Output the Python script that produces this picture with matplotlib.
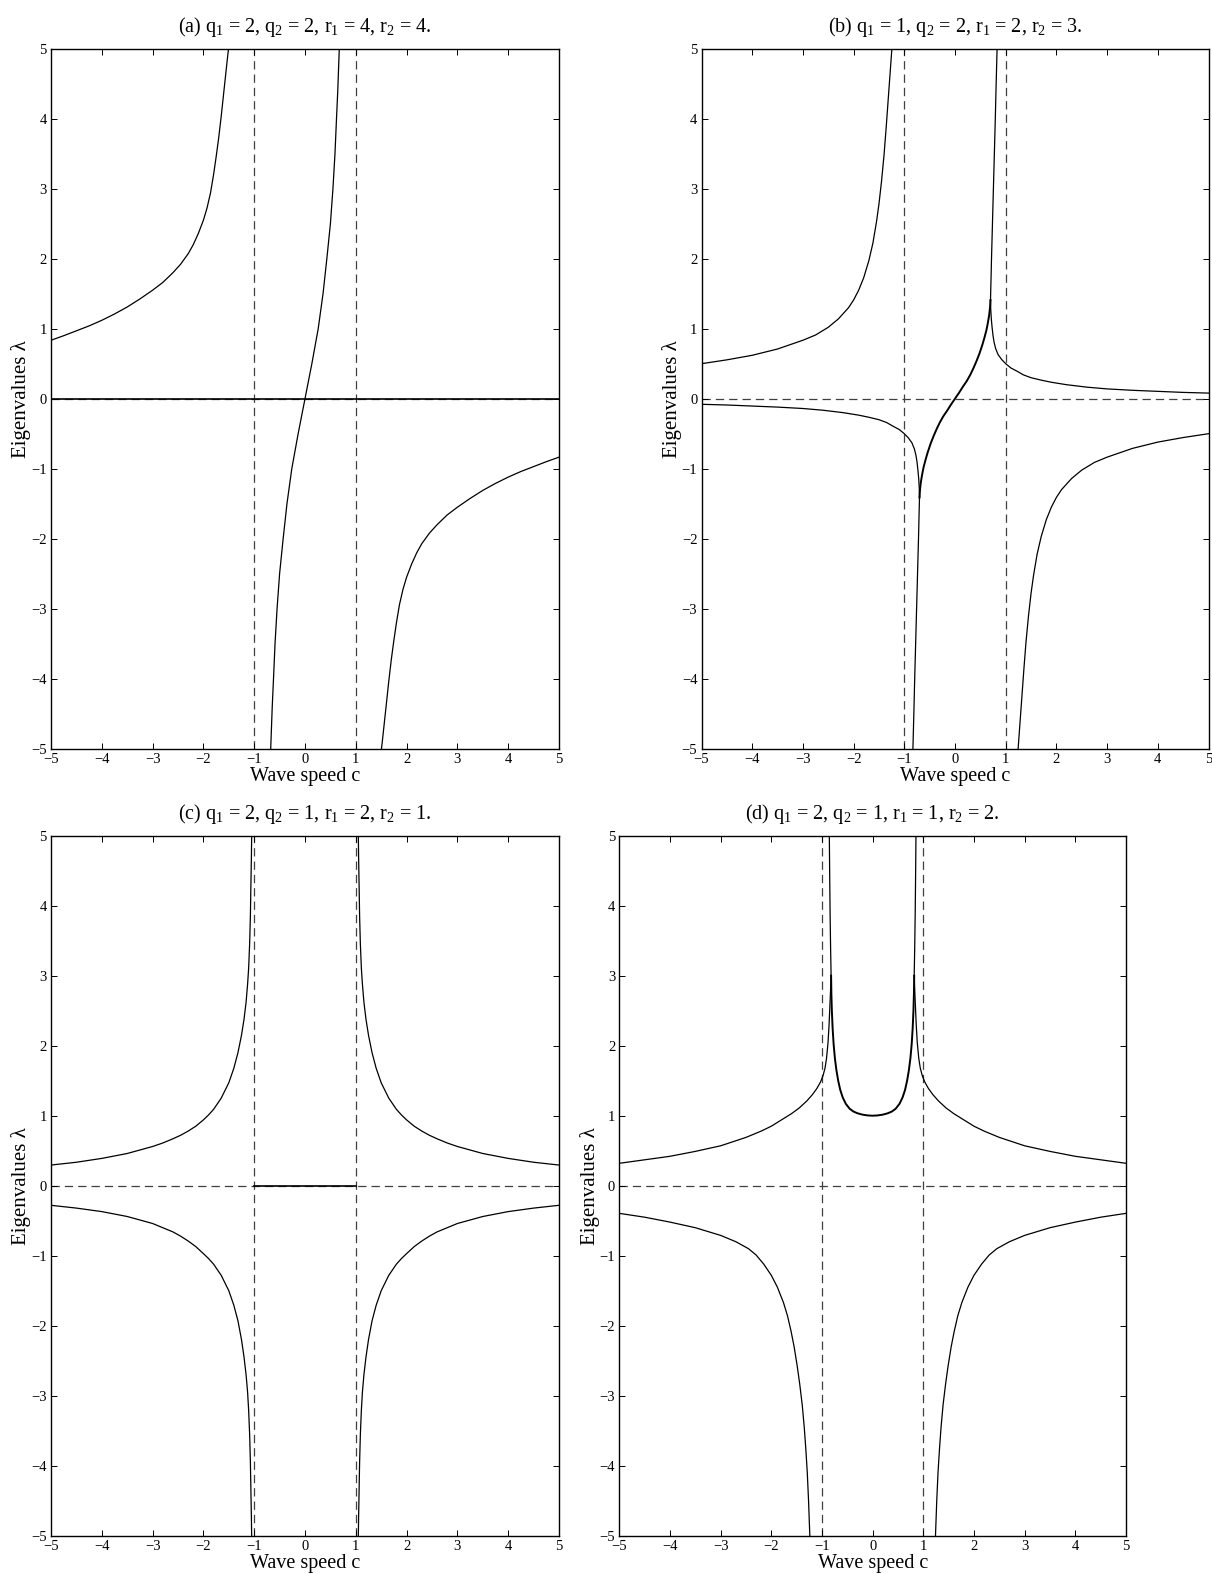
import numpy as np
import matplotlib
matplotlib.use("Agg")
import matplotlib.pyplot as plt

plt.rcParams['font.family'] = ['Liberation Serif', 'DejaVu Serif']
plt.rcParams['mathtext.fontset'] = 'custom'
plt.rcParams['mathtext.rm'] = 'Liberation Serif'
plt.rcParams['mathtext.it'] = 'Liberation Serif:italic'
plt.rcParams['lines.scale_dashes'] = False

#Panel titles
titles = [
    r'(a) q$_1$ = 2, q$_2$ = 2, r$_1$ = 4, r$_2$ = 4.',
    r'(b) q$_1$ = 1, q$_2$ = 2, r$_1$ = 2, r$_2$ = 3.',
    r'(c) q$_1$ = 2, q$_2$ = 1, r$_1$ = 2, r$_2$ = 1.',
    r'(d) q$_1$ = 2, q$_2$ = 1, r$_1$ = 1, r$_2$ = 2.',
]
ticks = [-5, -4, -3, -2, -1, 0, 1, 2, 3, 4, 5]
asymptotes_c = [-1, 1]
zero_level = 0

#(a) eigenvalue branches
a_ul_c = [-5.0, -4.75, -4.5, -4.25, -4.0, -3.75, -3.5, -3.25, -3.0, -2.8, -2.6, -2.45, -2.3, -2.2, -2.1,
          -2.0, -1.93, -1.86, -1.8, -1.75, -1.7, -1.65, -1.6, -1.56, -1.52, -1.505]
a_ul_lam = [0.835, 0.9, 0.97, 1.04, 1.12, 1.21, 1.31, 1.425, 1.55, 1.66, 1.8, 1.92, 2.07, 2.2, 2.36,
            2.55, 2.72, 2.94, 3.2, 3.45, 3.72, 4.03, 4.37, 4.64, 4.91, 5.0]
a_lr_c = [1.505, 1.52, 1.56, 1.6, 1.65, 1.7, 1.75, 1.8, 1.86, 1.93, 2.0, 2.1, 2.2, 2.3, 2.45,
          2.6, 2.8, 3.0, 3.25, 3.5, 3.75, 4.0, 4.25, 4.5, 4.75, 5.0]
a_lr_lam = [-5.0, -4.91, -4.64, -4.37, -4.03, -3.72, -3.45, -3.2, -2.94, -2.72, -2.55, -2.36, -2.2, -2.07, -1.92,
            -1.8, -1.66, -1.55, -1.425, -1.31, -1.21, -1.12, -1.04, -0.97, -0.9, -0.835]
a_mid_c = [-0.675, -0.66, -0.645, -0.62, -0.59, -0.55, -0.5, -0.43, -0.355, -0.26, -0.135, 0.0,
           0.135, 0.26, 0.355, 0.43, 0.5, 0.55, 0.59, 0.62, 0.645, 0.66, 0.675]
a_mid_lam = [-5.0, -4.7, -4.4, -4.0, -3.5, -3.0, -2.5, -2.0, -1.5, -1.0, -0.5, 0.0,
             0.5, 1.0, 1.5, 2.0, 2.5, 3.0, 3.5, 4.0, 4.4, 4.7, 5.0]
a_zero_c = [-5.0, 5.0]
a_zero_lam = [0.0, 0.0]

#(b)
b_ul_c = [-5.0, -4.5, -4.0, -3.5, -3.0, -2.75, -2.5, -2.3, -2.1, -2.0, -1.9, -1.8, -1.7, -1.62,
          -1.55, -1.5, -1.45, -1.4, -1.36, -1.32, -1.28, -1.245]
b_ul_lam = [0.5, 0.555, 0.62, 0.71, 0.835, 0.91, 1.02, 1.14, 1.3, 1.41, 1.55, 1.73, 1.97, 2.22,
            2.52, 2.78, 3.1, 3.48, 3.85, 4.25, 4.65, 5.0]
b_lr_c = [1.245, 1.28, 1.32, 1.36, 1.4, 1.45, 1.5, 1.55, 1.62, 1.7, 1.8, 1.9, 2.0, 2.1,
          2.3, 2.5, 2.75, 3.0, 3.5, 4.0, 4.5, 5.0]
b_lr_lam = [-5.0, -4.65, -4.25, -3.85, -3.48, -3.1, -2.78, -2.52, -2.22, -1.97, -1.73, -1.55, -1.41, -1.3,
            -1.14, -1.02, -0.91, -0.835, -0.71, -0.62, -0.555, -0.5]
b_ur_c = [0.70, 0.705, 0.715, 0.73, 0.75, 0.77, 0.8, 0.85, 0.92, 1.0, 1.1, 1.23, 1.35, 1.5,
          1.7, 1.9, 2.2, 2.6, 3.0, 3.5, 4.0, 4.5, 5.0]
b_ur_lam = [1.40, 1.28, 1.15, 1.03, 0.9, 0.81, 0.72, 0.63, 0.56, 0.5, 0.44, 0.39, 0.34, 0.3,
            0.265, 0.235, 0.2, 0.165, 0.14, 0.12, 0.105, 0.09, 0.08]
b_ll_c = [-5.0, -4.5, -4.0, -3.5, -3.0, -2.6, -2.2, -1.9, -1.7, -1.5, -1.35, -1.23, -1.1, -1.0,
          -0.92, -0.85, -0.8, -0.77, -0.75, -0.73, -0.715, -0.705, -0.70]
b_ll_lam = [-0.08, -0.09, -0.105, -0.12, -0.14, -0.165, -0.2, -0.235, -0.265, -0.3, -0.34, -0.39, -0.44, -0.5,
            -0.56, -0.63, -0.72, -0.81, -0.9, -1.03, -1.15, -1.28, -1.40]
b_upvert_c = [0.70, 0.705, 0.712, 0.72, 0.735, 0.75, 0.765, 0.78, 0.795, 0.81, 0.83]
b_upvert_lam = [1.40, 1.55, 1.75, 2.0, 2.4, 2.8, 3.2, 3.6, 4.0, 4.45, 5.0]
b_dnvert_c = [-0.83, -0.81, -0.795, -0.78, -0.765, -0.75, -0.735, -0.72, -0.712, -0.705, -0.70]
b_dnvert_lam = [-5.0, -4.45, -4.0, -3.6, -3.2, -2.8, -2.4, -2.0, -1.75, -1.55, -1.40]
b_mid_c = [-0.70, -0.69, -0.675, -0.65, -0.62, -0.58, -0.54, -0.48, -0.42, -0.36, -0.3, -0.23, -0.154, -0.08, 0.0,
           0.08, 0.154, 0.23, 0.3, 0.36, 0.42, 0.48, 0.54, 0.58, 0.62, 0.65, 0.675, 0.69, 0.70]
b_mid_lam = [-1.41, -1.3, -1.2, -1.09, -0.98, -0.87, -0.77, -0.64, -0.53, -0.43, -0.34, -0.25, -0.17, -0.085, 0.0,
             0.085, 0.17, 0.25, 0.34, 0.43, 0.53, 0.64, 0.77, 0.87, 0.98, 1.09, 1.2, 1.3, 1.41]

#(c)
c_ul_c = [-5.0, -4.5, -4.0, -3.5, -3.0, -2.8, -2.6, -2.45, -2.3, -2.15, -2.0, -1.9, -1.8, -1.65, -1.5,
          -1.4, -1.32, -1.25, -1.2, -1.16, -1.13, -1.11, -1.09, -1.075, -1.065, -1.055, -1.05]
c_ul_lam = [0.295, 0.335, 0.39, 0.46, 0.56, 0.61, 0.67, 0.72, 0.78, 0.85, 0.94, 1.01, 1.09, 1.25, 1.47,
            1.68, 1.9, 2.15, 2.38, 2.62, 2.88, 3.1, 3.45, 3.85, 4.3, 4.7, 5.0]
c_ur_c = [1.05, 1.055, 1.065, 1.075, 1.09, 1.11, 1.13, 1.16, 1.2, 1.25, 1.32, 1.4, 1.5, 1.65, 1.8,
          1.9, 2.0, 2.15, 2.3, 2.45, 2.6, 2.8, 3.0, 3.5, 4.0, 4.5, 5.0]
c_ur_lam = [5.0, 4.7, 4.3, 3.85, 3.45, 3.1, 2.88, 2.62, 2.38, 2.15, 1.9, 1.68, 1.47, 1.25, 1.09,
            1.01, 0.94, 0.85, 0.78, 0.72, 0.67, 0.61, 0.56, 0.46, 0.39, 0.335, 0.295]
c_ll_c = [-5.0, -4.5, -4.0, -3.5, -3.0, -2.8, -2.6, -2.45, -2.3, -2.15, -2.0, -1.9, -1.8, -1.65, -1.5,
          -1.4, -1.32, -1.25, -1.2, -1.16, -1.13, -1.11, -1.09, -1.075, -1.065, -1.055, -1.05]
c_ll_lam = [-0.28, -0.32, -0.37, -0.44, -0.54, -0.6, -0.66, -0.72, -0.79, -0.87, -0.97, -1.04, -1.12, -1.28, -1.5,
            -1.71, -1.93, -2.2, -2.45, -2.7, -2.95, -3.2, -3.55, -3.95, -4.35, -4.75, -5.0]
c_lr_c = [1.05, 1.055, 1.065, 1.075, 1.09, 1.11, 1.13, 1.16, 1.2, 1.25, 1.32, 1.4, 1.5, 1.65, 1.8,
          1.9, 2.0, 2.15, 2.3, 2.45, 2.6, 2.8, 3.0, 3.5, 4.0, 4.5, 5.0]
c_lr_lam = [-5.0, -4.75, -4.35, -3.95, -3.55, -3.2, -2.95, -2.7, -2.45, -2.2, -1.93, -1.71, -1.5, -1.28, -1.12,
            -1.04, -0.97, -0.87, -0.79, -0.72, -0.66, -0.6, -0.54, -0.44, -0.37, -0.32, -0.28]
c_zero_c = [-1.0, 1.0]
c_zero_lam = [0.0, 0.0]

#(d)
d_ul_c = [-5.0, -4.5, -4.0, -3.5, -3.0, -2.5, -2.2, -2.0, -1.8, -1.6, -1.45, -1.3, -1.19, -1.1,
          -1.03, -0.98, -0.94, -0.91, -0.88, -0.86, -0.845, -0.83, -0.82]
d_ul_lam = [0.32, 0.37, 0.42, 0.49, 0.57, 0.69, 0.78, 0.85, 0.94, 1.03, 1.11, 1.21, 1.3, 1.39,
            1.48, 1.57, 1.68, 1.82, 2.05, 2.3, 2.55, 2.8, 3.0]
d_ur_c = [0.82, 0.83, 0.845, 0.86, 0.88, 0.91, 0.94, 0.98, 1.03, 1.1, 1.19, 1.3, 1.45, 1.6,
          1.8, 2.0, 2.2, 2.5, 3.0, 3.5, 4.0, 4.5, 5.0]
d_ur_lam = [3.0, 2.8, 2.55, 2.3, 2.05, 1.82, 1.68, 1.57, 1.48, 1.39, 1.3, 1.21, 1.11, 1.03,
            0.94, 0.85, 0.78, 0.69, 0.57, 0.49, 0.42, 0.37, 0.32]
d_lvert_c = [-0.82, -0.83, -0.84, -0.848, -0.855]
d_lvert_lam = [3.0, 3.4, 3.9, 4.45, 5.0]
d_rvert_c = [0.82, 0.83, 0.84, 0.848, 0.855]
d_rvert_lam = [3.0, 3.4, 3.9, 4.45, 5.0]
d_inner_c = [-0.82, -0.815, -0.805, -0.79, -0.77, -0.745, -0.715, -0.68, -0.64, -0.59, -0.53, -0.455,
             -0.38, -0.3, -0.2, -0.1, 0.0, 0.1, 0.2, 0.3, 0.38, 0.455, 0.53, 0.59, 0.64, 0.68,
             0.715, 0.745, 0.77, 0.79, 0.805, 0.815, 0.82]
d_inner_lam = [3.0, 2.75, 2.5, 2.25, 2.02, 1.82, 1.65, 1.5, 1.37, 1.26, 1.17, 1.1,
               1.06, 1.035, 1.015, 1.004, 1.0, 1.004, 1.015, 1.035, 1.06, 1.1, 1.17, 1.26, 1.37, 1.5,
               1.65, 1.82, 2.02, 2.25, 2.5, 2.75, 3.0]
d_ll_c = [-5.0, -4.5, -4.0, -3.5, -3.0, -2.7, -2.45, -2.3, -2.15, -2.0, -1.88, -1.76, -1.68, -1.61,
          -1.55, -1.49, -1.44, -1.39, -1.35, -1.32, -1.29, -1.265, -1.24]
d_ll_lam = [-0.395, -0.45, -0.52, -0.6, -0.71, -0.8, -0.9, -0.99, -1.12, -1.28, -1.45, -1.67, -1.86, -2.08,
            -2.3, -2.57, -2.83, -3.13, -3.45, -3.75, -4.1, -4.5, -5.0]
d_lr_c = [1.24, 1.265, 1.29, 1.32, 1.35, 1.39, 1.44, 1.49, 1.55, 1.61, 1.68, 1.76, 1.88, 2.0,
          2.15, 2.3, 2.45, 2.7, 3.0, 3.5, 4.0, 4.5, 5.0]
d_lr_lam = [-5.0, -4.5, -4.1, -3.75, -3.45, -3.13, -2.83, -2.57, -2.3, -2.08, -1.86, -1.67, -1.45, -1.28,
            -1.12, -0.99, -0.9, -0.8, -0.71, -0.6, -0.52, -0.45, -0.395]


#Set up one panel: limits, ticks on all sides, dashed reference lines.
def setup_panel(ax, title):
    ax.set_xlim(-5, 5)
    ax.set_ylim(-5, 5)
    ax.set_xticks(ticks)
    ax.set_yticks(ticks)
    ax.tick_params(direction='in', top=True, right=True, length=4.5, width=0.7,
                   labelsize=10.5, pad=3)
    for s in ax.spines.values():
        s.set_linewidth(1.0)
    ax.set_title(title, fontsize=14.5, pad=12)
    ax.set_xlabel('Wave speed c', fontsize=14.5, labelpad=1)
    ax.set_ylabel('Eigenvalues λ', fontsize=15, labelpad=0)
    for c in asymptotes_c:
        ax.axvline(c, color='0.25', lw=0.9, dashes=(6, 3.6), zorder=1)
    ax.axhline(zero_level, color='0.25', lw=0.9, dashes=(6, 3.6), zorder=1)


def branch(ax, c, lam, lw=0.9):
    ax.plot(c, lam, color='k', lw=lw, zorder=2)


fig = plt.figure(figsize=(12.12, 15.74), dpi=100)
W, H = 1212.0, 1574.0
ax_a = fig.add_axes([51 / W, 1 - 748.7 / H, 508 / W, 700 / H])
ax_b = fig.add_axes([701.5 / W, 1 - 748.7 / H, 507 / W, 700 / H])
ax_c = fig.add_axes([51 / W, 1 - 1535.7 / H, 508 / W, 700 / H])
ax_d = fig.add_axes([619.3 / W, 1 - 1535.7 / H, 506.7 / W, 700 / H])

for ax, t in zip([ax_a, ax_b, ax_c, ax_d], titles):
    setup_panel(ax, t)

branch(ax_a, a_ul_c, a_ul_lam)
branch(ax_a, a_lr_c, a_lr_lam)
branch(ax_a, a_mid_c, a_mid_lam)
branch(ax_a, a_zero_c, a_zero_lam, lw=1.2)

branch(ax_b, b_ul_c, b_ul_lam)
branch(ax_b, b_lr_c, b_lr_lam)
branch(ax_b, b_ur_c, b_ur_lam)
branch(ax_b, b_ll_c, b_ll_lam)
branch(ax_b, b_upvert_c, b_upvert_lam)
branch(ax_b, b_dnvert_c, b_dnvert_lam)
branch(ax_b, b_mid_c, b_mid_lam, lw=1.4)

branch(ax_c, c_ul_c, c_ul_lam)
branch(ax_c, c_ur_c, c_ur_lam)
branch(ax_c, c_ll_c, c_ll_lam)
branch(ax_c, c_lr_c, c_lr_lam)
branch(ax_c, c_zero_c, c_zero_lam, lw=1.2)

branch(ax_d, d_ul_c, d_ul_lam)
branch(ax_d, d_ur_c, d_ur_lam)
branch(ax_d, d_lvert_c, d_lvert_lam)
branch(ax_d, d_rvert_c, d_rvert_lam)
branch(ax_d, d_inner_c, d_inner_lam, lw=1.4)
branch(ax_d, d_ll_c, d_ll_lam)
branch(ax_d, d_lr_c, d_lr_lam)

fig.savefig('out.png', dpi=100)
